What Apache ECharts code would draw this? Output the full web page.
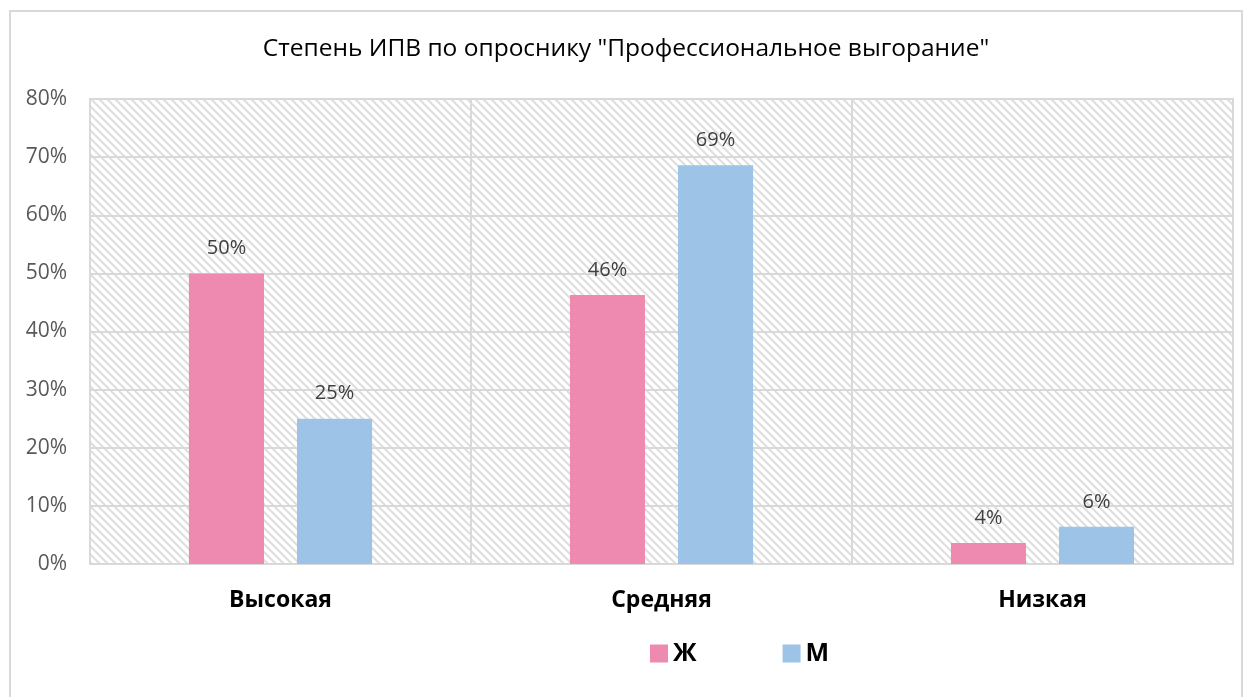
<!DOCTYPE html>
<html>
<head>
<meta charset="utf-8">
<script src="https://cdn.jsdelivr.net/npm/echarts@6/dist/echarts.min.js"></script>
<style>
html,body{margin:0;padding:0;background:#fff;}
#frame{position:absolute;left:9px;top:10px;width:1234px;height:700px;border:2px solid #d9d9d9;box-sizing:border-box;}
#chart{position:absolute;left:0;top:0;width:1252px;height:697px;}
</style>
</head>
<body>
<div id="frame"></div>
<div id="chart"></div>
<script>
const titleText = 'Степень ИПВ по опроснику "Профессиональное выгорание"';
const categories = ['Высокая', 'Средняя', 'Низкая'];
const seriesNames = ['Ж', 'М'];
const womenValues = [0.50, 0.463, 0.036];
const menValues = [0.25, 0.686, 0.064];
const yTicks = [0, 0.1, 0.2, 0.3, 0.4, 0.5, 0.6, 0.7, 0.8];

function makeHatch() {
  const c = document.createElement('canvas');
  c.width = 8; c.height = 8;
  const ctx = c.getContext('2d');
  ctx.fillStyle = '#ffffff';
  ctx.fillRect(0, 0, 8, 8);
  ctx.strokeStyle = '#dedede';
  ctx.lineWidth = 2;
  ctx.beginPath();
  ctx.moveTo(-2, -2); ctx.lineTo(10, 10);
  ctx.moveTo(-2, 6); ctx.lineTo(2, 10);
  ctx.moveTo(6, -2); ctx.lineTo(10, 2);
  ctx.stroke();
  return c;
}

const font = 'Open Sans';
const chart = echarts.init(document.getElementById('chart'), null, {renderer: 'canvas'});
const pct = v => Math.round(v * 100) + '%';
chart.setOption({
  animation: false,
  title: {
    text: titleText, left: 'center', top: 32,
    textStyle: {fontFamily: font, fontSize: 24.5, fontWeight: 'normal', color: '#000'}
  },
  legend: {
    data: seriesNames, top: 636, left: 645, itemGap: 86,
    icon: 'rect', itemWidth: 18, itemHeight: 18,
    textStyle: {fontFamily: font, fontSize: 25, fontWeight: 'bold', color: '#000'}
  },
  grid: {
    left: 90, right: 19, top: 99, bottom: 133,
    show: true, borderColor: '#d9d9d9', borderWidth: 2,
    backgroundColor: {image: makeHatch(), repeat: 'repeat'}
  },
  xAxis: {
    type: 'category', data: categories,
    axisLine: {show: false}, axisTick: {show: false},
    splitLine: {show: true, lineStyle: {color: '#d9d9d9', width: 2}},
    axisLabel: {fontFamily: font, fontSize: 23, fontWeight: 'bold', color: '#000', margin: 25}
  },
  yAxis: {
    type: 'value', min: 0, max: 0.8, interval: 0.1,
    axisLine: {show: false}, axisTick: {show: false},
    splitLine: {lineStyle: {color: '#d9d9d9', width: 2}},
    axisLabel: {fontFamily: font, fontSize: 21, color: '#595959', margin: 23,
      formatter: v => pct(v)}
  },
  series: [
    {name: seriesNames[0], type: 'bar', data: womenValues, barWidth: '19.7%', barGap: '44%',
      itemStyle: {color: '#ee8aaf'},
      label: {show: true, position: 'top', distance: 15, fontFamily: font, fontSize: 20, color: '#404040', formatter: p => pct(p.value)}},
    {name: seriesNames[1], type: 'bar', data: menValues, barWidth: '19.7%', barGap: '44%',
      itemStyle: {color: '#9dc3e6'},
      label: {show: true, position: 'top', distance: 15, fontFamily: font, fontSize: 20, color: '#404040', formatter: p => pct(p.value)}}
  ]
});
</script>
</body>
</html>
